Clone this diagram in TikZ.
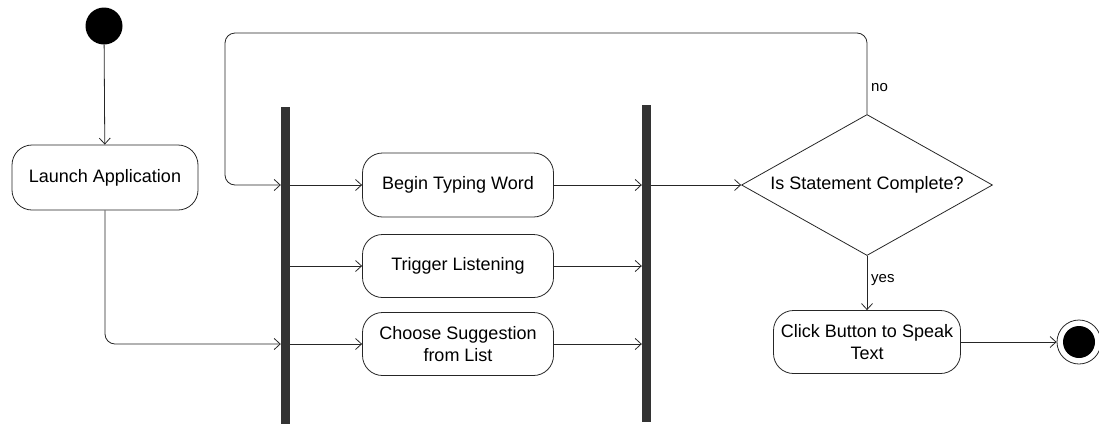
\documentclass[tikz,border=0pt]{standalone}
\usepackage{fontspec}
\setmainfont{Liberation Sans}
\usetikzlibrary{arrows.meta,shapes.geometric}
\begin{document}
\begin{tikzpicture}[x=1pt,y=-1pt,
  every node/.style={font=\fontsize{18}{22}\selectfont},
  act/.style={draw=black!85, line width=0.8pt, rounded corners=20pt, align=center, inner sep=2pt},
  bar/.style={fill=black!80, draw=none, minimum width=9pt, minimum height=317pt, inner sep=0pt},
  dec/.style={draw=black!85, line width=0.8pt, diamond, aspect=1.78, minimum width=251pt, minimum height=141pt, inner sep=0pt},
  startst/.style={circle, fill=black, minimum size=37pt, inner sep=0pt},
  endst/.style={circle, draw=black!85, line width=0.8pt, minimum size=44pt, inner sep=0pt},
  arr/.style={draw=black!85, line width=0.8pt, -{Straight Barb[length=6pt,width=11pt,line width=0.8pt]}},
  lbl/.style={font=\fontsize{15}{17}\selectfont, anchor=west, inner sep=1pt}
]
\useasboundingbox (0,0) rectangle (1099,424);

\node[startst] (start) at (104,26) {};
\node[act, minimum width=186pt, minimum height=65pt] (launch) at (105,177.5) {Launch Application};
\node[bar] (bar1) at (285.5,265) {};
\node[bar] (bar2) at (646.5,263.5) {};
\node[act, minimum width=191pt, minimum height=64pt] (begin) at (458,185) {Begin Typing Word};
\node[act, minimum width=191pt, minimum height=63pt] (trig) at (458,266) {Trigger Listening};
\node[act, minimum width=191pt, minimum height=63pt] (choose) at (458,344) {Choose Suggestion\\from List};
\node[dec] (dec) at (867,185) {Is Statement Complete?};
\node[act, minimum width=187pt, minimum height=63pt] (click) at (867,342) {Click Button to Speak\\Text};
\node[endst] (end) at (1079,342) {};
\fill[black] (end.center) circle (16pt);
\coordinate (tl) at (225,33);

\draw[arr] (start) -- (launch);
\draw[arr, rounded corners=10pt] (launch.south) |- (bar1.west |- choose);
\draw[arr, rounded corners=10pt] (dec.north) |- (tl) |- (bar1.west |- begin);
\node[lbl] at (870,88) {no};
\draw[arr] (bar1.east |- begin) -- (begin.west);
\draw[arr] (bar1.east |- trig) -- (trig.west);
\draw[arr] (bar1.east |- choose) -- (choose.west);
\draw[arr] (begin.east) -- (bar2.west |- begin);
\draw[arr] (trig.east) -- (bar2.west |- trig);
\draw[arr] (choose.east) -- (bar2.west |- choose);
\draw[arr] (bar2.east |- dec) -- (dec.west);
\draw[arr] (dec.south) -- (click.north);
\node[lbl] at (870,280) {yes};
\draw[arr] (click.east) -- (end.west);
\end{tikzpicture}
\end{document}
